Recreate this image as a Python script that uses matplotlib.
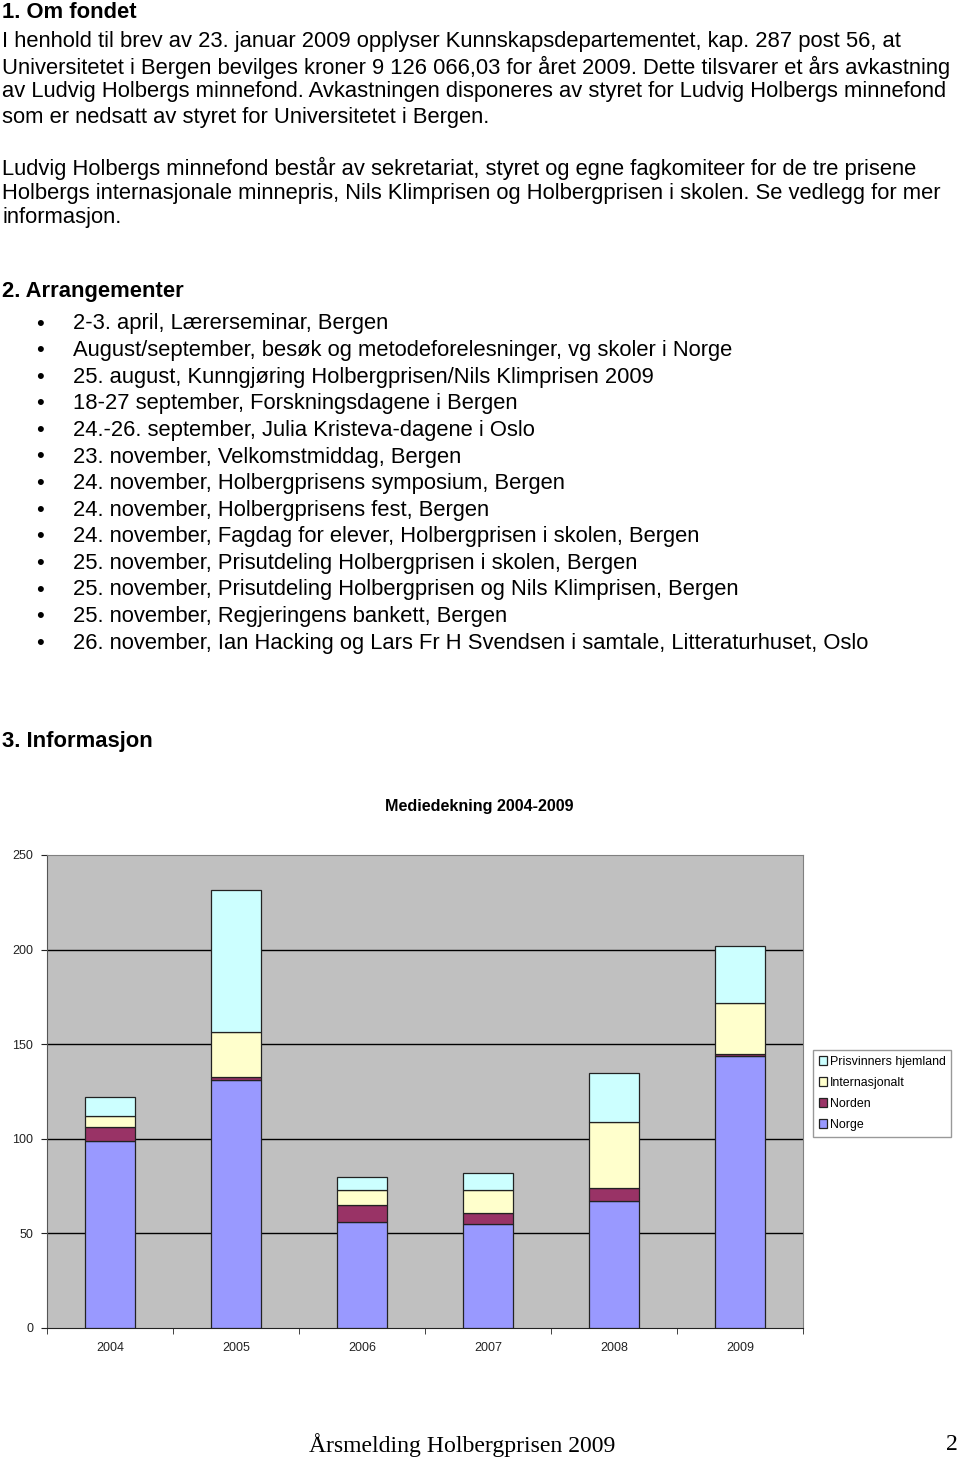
import matplotlib
matplotlib.use("Agg")
import matplotlib.pyplot as plt
import numpy as np

W, H = 960, 1459

# chart data
years = ["2004", "2005", "2006", "2007", "2008", "2009"]
norge = [99, 131, 56, 55, 67, 144]
norden = [7, 1.5, 9, 6, 7, 1]
internasjonalt = [6, 24, 8, 12, 35, 27]
hjemland = [10, 75, 7, 9, 26, 30]
series_names = ["Norge", "Norden", "Internasjonalt", "Prisvinners hjemland"]
series_colors = ["#9999FF", "#993366", "#FFFFCC", "#CCFFFF"]
yticks = [0, 50, 100, 150, 200, 250]

para1 = ["I henhold til brev av 23. januar 2009 opplyser Kunnskapsdepartementet, kap. 287 post 56, at",
         "Universitetet i Bergen bevilges kroner 9 126 066,03 for året 2009. Dette tilsvarer et års avkastning",
         "av Ludvig Holbergs minnefond. Avkastningen disponeres av styret for Ludvig Holbergs minnefond",
         "som er nedsatt av styret for Universitetet i Bergen."]
para2 = ["Ludvig Holbergs minnefond består av sekretariat, styret og egne fagkomiteer for de tre prisene",
         "Holbergs internasjonale minnepris, Nils Klimprisen og Holbergprisen i skolen. Se vedlegg for mer",
         "informasjon."]
events = ["2-3. april, Lærerseminar, Bergen",
          "August/september, besøk og metodeforelesninger, vg skoler i Norge",
          "25. august, Kunngjøring Holbergprisen/Nils Klimprisen 2009",
          "18-27 september, Forskningsdagene i Bergen",
          "24.-26. september, Julia Kristeva-dagene i Oslo",
          "23. november, Velkomstmiddag, Bergen",
          "24. november, Holbergprisens symposium, Bergen",
          "24. november, Holbergprisens fest, Bergen",
          "24. november, Fagdag for elever, Holbergprisen i skolen, Bergen",
          "25. november, Prisutdeling Holbergprisen i skolen, Bergen",
          "25. november, Prisutdeling Holbergprisen og Nils Klimprisen, Bergen",
          "25. november, Regjeringens bankett, Bergen",
          "26. november, Ian Hacking og Lars Fr H Svendsen i samtale, Litteraturhuset, Oslo"]

plt.rcParams["font.family"] = "Liberation Sans"

fig = plt.figure(figsize=(W / 100, H / 100), dpi=100)
fig.patch.set_facecolor("white")


def put(x, y, s, **kw):
    fig.text(x / W, 1 - y / H, s, va="center", **kw)


FS = 15.8
put(2, 12, "1. Om fondet", fontsize=FS, fontweight="bold")
for i, line in enumerate(para1):
    put(2, 42 + 25 * i, line, fontsize=FS)
for i, line in enumerate(para2):
    put(2, 168 + 25 * i, line, fontsize=FS)
put(2, 292, "2. Arrangementer", fontsize=FS, fontweight="bold")
for i, ev in enumerate(events):
    y = 324 + 26.6 * i
    put(36, y, "\u2022", fontsize=FS)
    put(73, y, ev, fontsize=FS)
put(2, 742, "3. Informasjon", fontsize=FS, fontweight="bold")

put(479, 806, "Mediedekning 2004-2009", fontsize=11.6, fontweight="bold", ha="center")

put(309, 1445, "Årsmelding Holbergprisen 2009", fontsize=17.1, family="Liberation Serif")
put(958, 1445, "2", fontsize=17.1, family="Liberation Serif", ha="right")

# chart
ax = fig.add_axes([47 / W, 1 - 1328 / H, 756 / W, 473 / H])
ax.set_facecolor("#C0C0C0")
x = np.arange(len(years))
bottom = np.zeros(len(years))
handles = []
for vals, name, col in zip([norge, norden, internasjonalt, hjemland], series_names, series_colors):
    b = ax.bar(x, vals, width=0.39, bottom=bottom, color=col, edgecolor="#222222",
               linewidth=0.9, zorder=3, label=name)
    handles.append(b)
    bottom += np.array(vals)

ax.set_xlim(-0.5, len(years) - 0.5)
ax.set_ylim(0, 250)
ax.set_yticks(yticks)
ax.set_yticklabels([str(t) for t in yticks], fontsize=9, color="#222222")
ax.set_xticks(x)
ax.set_xticklabels(years, fontsize=9, color="#222222")
ax.tick_params(axis="x", length=0, pad=10)
ax.set_xticks(np.arange(-0.5, len(years), 1), minor=True)
ax.tick_params(axis="x", which="minor", length=4, direction="out", color="#222222")
ax.tick_params(axis="y", length=4, direction="out", color="#222222", pad=6)
for yv in yticks[1:-1]:
    ax.axhline(yv, color="black", linewidth=1.0, zorder=1)
for sp in ["top", "right"]:
    ax.spines[sp].set_color("#808080")
ax.spines["left"].set_color("#555555")
ax.spines["bottom"].set_color("#222222")

leg = fig.legend(handles[::-1], series_names[::-1], loc="upper left",
                 bbox_to_anchor=(813 / W, 1 - 1050 / H), fontsize=8.9,
                 frameon=True, fancybox=False, edgecolor="#808080",
                 handlelength=0.7, handleheight=0.7, handletextpad=0.2,
                 borderpad=0.45, labelspacing=0.74, borderaxespad=0)
leg.get_frame().set_linewidth(1.0)

fig.savefig("out.png", dpi=100, facecolor="white")
